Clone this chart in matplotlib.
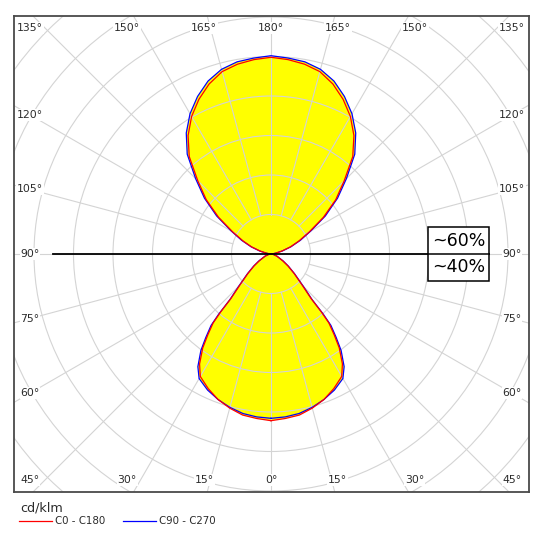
import numpy as np
import matplotlib
matplotlib.use("Agg")
import matplotlib.pyplot as plt
from matplotlib.patches import Rectangle, Circle
from matplotlib.lines import Line2D

# gamma angles (deg, 0 = nadir) and luminous intensity in cd/klm
GAMMA = [0, 5, 10, 15, 20, 25, 30, 33, 36, 38, 40, 41, 42, 45, 50, 55, 60, 70, 80, 90,
         95, 100, 105, 110, 115, 120, 125, 130, 135, 140, 145, 150, 155, 160, 165, 170, 175, 180]
C0_C180 = [211, 209, 207, 202, 196, 188, 179, 166, 147, 130, 114, 97, 76, 56, 38, 26, 17, 8, 3, 0,
           2, 6, 14, 26, 39, 56, 81, 107, 131, 161, 183, 201, 216, 229, 239, 244, 247, 249]
C90_C270 = [208, 207, 205, 201, 196, 190, 182, 170, 151, 134, 118, 101, 78, 58, 39, 27, 18, 8, 3, 0,
            2, 6, 15, 27, 41, 58, 84, 110, 135, 165, 187, 205, 220, 233, 242, 247, 249, 251]
LABEL_ANGLES = list(range(0, 181, 15))
SHARE_UP = "~60%"
SHARE_DOWN = "~40%"

RING_STEP = 50          # cd/klm per grid ring
PX = 39.5 / RING_STEP   # pixels per cd/klm
GRID = "#d4d4d4"
TXT = "#2b2b2b"


def outline(values):
    g = np.radians(GAMMA)
    v = np.asarray(values, float)
    x = v * np.sin(g)
    y = -v * np.cos(g)
    return np.concatenate([x, -x[::-1]]), np.concatenate([y, y[::-1]])


def label_pos(gamma, side):
    a = np.radians(gamma)
    dx, dy = np.sin(a), -np.cos(a)
    hx, hy = 241 / PX, 249 / PX
    t = min(hx / abs(dx) if abs(dx) > 1e-9 else np.inf,
            hy / abs(dy) if abs(dy) > 1e-9 else np.inf)
    x, y = side * dx * t, dy * t
    y = np.clip(y, -226 / PX, 226 / PX)
    return x, y


fig = plt.figure(figsize=(5.43, 5.43), dpi=100)
ax = fig.add_axes([14 / 543, 51 / 543, 515 / 543, 476 / 543])
ax.set_xlim(-257 / PX, 258 / PX)
ax.set_ylim(-238 / PX, 238 / PX)
ax.set_xticks([])
ax.set_yticks([])
for sp in ax.spines.values():
    sp.set_color("#4a4a4a")
    sp.set_linewidth(1.3)

# yellow fill
for vals in (C90_C270, C0_C180):
    xs, ys = outline(vals)
    ax.fill(xs, ys, color="#ffff00", lw=0, zorder=1)

# grid rings and radial lines
for k in range(1, 10):
    ax.add_patch(Circle((0, 0), RING_STEP * k, fill=False, ec=GRID, lw=0.8, zorder=2))
for g in range(0, 360, 15):
    a = np.radians(g)
    r = np.array([RING_STEP, 1000])
    ax.plot(r * np.sin(a), -r * np.cos(a), color=GRID, lw=0.8, zorder=2)

# curves
xs, ys = outline(C90_C270)
ax.plot(xs, ys, color="#0000ff", lw=0.9, zorder=3)
xs, ys = outline(C0_C180)
ax.plot(xs, ys, color="#ff0000", lw=0.9, zorder=3)

# up/down split line and share box
ax.plot([-218 / PX, 218 / PX], [0, 0], color="black", lw=1.3, zorder=4)
ax.add_patch(Rectangle((157 / PX, -27 / PX), 61 / PX, 54 / PX, fc="white", ec="black",
                       lw=1.1, zorder=4))
ax.plot([157 / PX, 218 / PX], [0, 0], color="black", lw=1.1, zorder=4)
ax.text(188 / PX, 13.5 / PX, SHARE_UP, ha="center", va="center", fontsize=12.5, zorder=5)
ax.text(188 / PX, -13.5 / PX, SHARE_DOWN, ha="center", va="center", fontsize=12.5, zorder=5)

# angle labels
for g in LABEL_ANGLES:
    sides = [1] if g in (0, 180) else [-1, 1]
    for s in sides:
        x, y = label_pos(g, s)
        ax.text(x, y, f"{g}°", ha="center", va="center", fontsize=7.8, color=TXT,
                zorder=6, bbox=dict(fc="white", ec="none", pad=0.6))

# legend
fig.text(20 / 543, 1 - 508 / 543, "cd/klm", fontsize=9.2, color=TXT, ha="left", va="center")
fig.add_artist(Line2D([19 / 543, 52 / 543], [1 - 521 / 543] * 2, color="#ff0000", lw=0.9))
fig.text(55 / 543, 1 - 521 / 543, "C0 - C180", fontsize=7.4, color=TXT, ha="left", va="center")
fig.add_artist(Line2D([123 / 543, 156 / 543], [1 - 521 / 543] * 2, color="#0000ff", lw=0.9))
fig.text(159 / 543, 1 - 521 / 543, "C90 - C270", fontsize=7.4, color=TXT, ha="left", va="center")

fig.savefig("out.png", dpi=100)
